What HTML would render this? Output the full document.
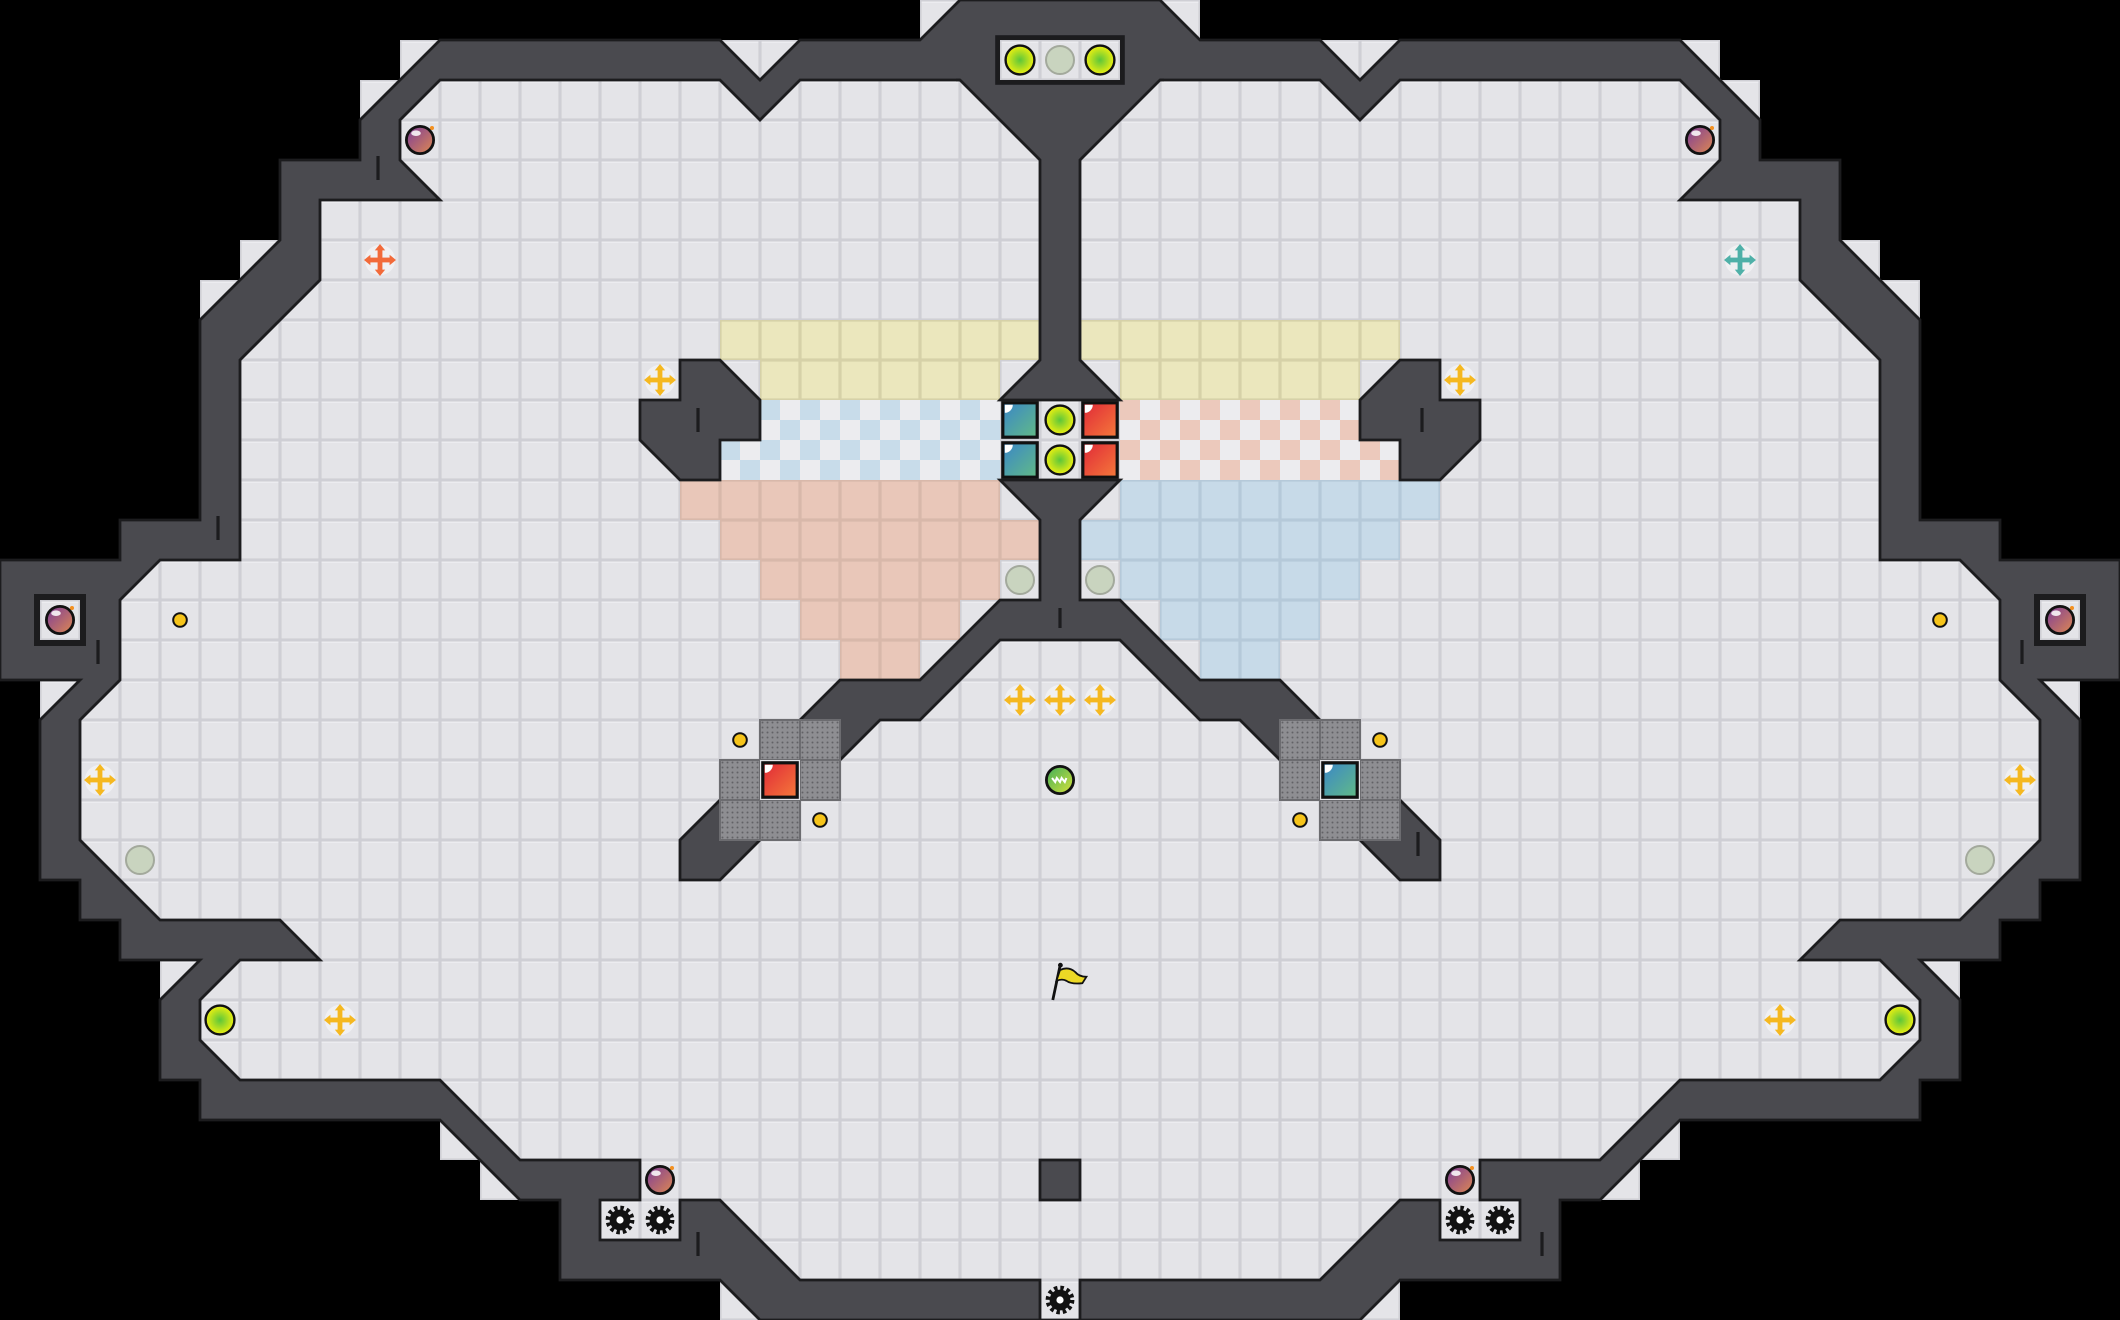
<!DOCTYPE html>
<html><head><meta charset="utf-8"><style>html,body{margin:0;padding:0;background:#000;overflow:hidden}svg{display:block}</style></head>
<body>
<svg width="2120" height="1320" viewBox="0 0 53 33" preserveAspectRatio="none" xmlns="http://www.w3.org/2000/svg">
<defs>
<pattern id="fl" width="1" height="1" patternUnits="userSpaceOnUse"><rect width="1" height="1" fill="#cfcfd5"/><rect x=".04" y=".04" width=".92" height=".92" fill="#e4e4e8"/><rect x=".04" y=".04" width=".92" height=".03" fill="#efeff2"/></pattern>
<pattern id="ye" width="1" height="1" patternUnits="userSpaceOnUse"><rect width="1" height="1" fill="#d6d1a8"/><rect x=".04" y=".04" width=".92" height=".92" fill="#ebe7bd"/></pattern>
<pattern id="pk" width="1" height="1" patternUnits="userSpaceOnUse"><rect width="1" height="1" fill="#d8b8aa"/><rect x=".04" y=".04" width=".92" height=".92" fill="#e9c7b9"/></pattern>
<pattern id="bl" width="1" height="1" patternUnits="userSpaceOnUse"><rect width="1" height="1" fill="#b5c9d9"/><rect x=".04" y=".04" width=".92" height=".92" fill="#c7dae8"/></pattern>
<pattern id="cb" width="1" height="1" patternUnits="userSpaceOnUse"><rect width="1" height="1" fill="#ececef"/><rect width=".5" height=".5" fill="#c8dcea"/><rect x=".5" y=".5" width=".5" height=".5" fill="#c8dcea"/></pattern>
<pattern id="cp" width="1" height="1" patternUnits="userSpaceOnUse"><rect width="1" height="1" fill="#ececef"/><rect width=".5" height=".5" fill="#ecc9bc"/><rect x=".5" y=".5" width=".5" height=".5" fill="#ecc9bc"/></pattern>
<pattern id="dt" width=".125" height=".125" patternUnits="userSpaceOnUse"><rect width=".125" height=".125" fill="#8e8e92"/><circle cx=".0625" cy=".0625" r=".025" fill="#626266"/></pattern>
<radialGradient id="gy" cx=".5" cy=".5" r=".5"><stop offset="0" stop-color="#5cc63a"/><stop offset="1" stop-color="#eef010"/></radialGradient>
<linearGradient id="gp" x1="0" y1="0" x2="1" y2="1"><stop offset="0" stop-color="#7a3a9a"/><stop offset="1" stop-color="#e08a50"/></linearGradient>
<linearGradient id="gt" x1="0" y1="0" x2="1" y2="1"><stop offset="0" stop-color="#3a86c8"/><stop offset="1" stop-color="#62bb86"/></linearGradient>
<linearGradient id="gr" x1="0" y1="0" x2="1" y2="1"><stop offset="0" stop-color="#e02838"/><stop offset="1" stop-color="#f57a3a"/></linearGradient>
<linearGradient id="gg" x1="0" y1="0" x2="1" y2="1"><stop offset="0" stop-color="#3fae5a"/><stop offset="1" stop-color="#d8e23a"/></linearGradient>
<g id="yc"><circle r=".36" fill="url(#gy)" stroke="#111" stroke-width=".06"/></g>
<g id="pc"><circle r=".35" fill="#c9d4bf" stroke="#a3a99c" stroke-width=".05"/></g>
<g id="bomb"><circle r=".34" fill="url(#gp)" stroke="#111" stroke-width=".07"/><ellipse cx="-.1" cy="-.17" rx=".12" ry=".07" fill="#fff" opacity=".85"/><circle cx=".3" cy="-.3" r=".05" fill="#f39020"/></g>
<g id="dot"><circle r=".17" fill="#f6c41a" stroke="#111" stroke-width=".05"/></g>
<g id="cr"><circle r=".38" fill="#f2f2f4" opacity=".8"/><rect x="-.06" y="-.26" width=".12" height=".52"/><rect x="-.26" y="-.06" width=".52" height=".12"/><polygon points="0,-.4 -.13,-.24 .13,-.24"/><polygon points="0,.4 -.13,.24 .13,.24"/><polygon points="-.4,0 -.24,-.13 -.24,.13"/><polygon points=".4,0 .24,-.13 .24,.13"/></g>
<g id="gear"><circle r=".3" fill="none" stroke="#111" stroke-width=".12" stroke-dasharray=".085 .072"/><circle r=".26" fill="#111"/><circle r=".09" fill="#fff"/></g>
</defs>

<g fill="url(#fl)">
<rect x="23" y="0" width="1" height="1"/><rect x="18" y="1" width="2" height="1"/><rect x="10" y="1" width="1" height="1"/><rect x="9" y="2" width="1" height="1"/><rect x="6" y="6" width="1" height="1"/><rect x="5" y="7" width="1" height="1"/><rect x="1" y="17" width="1" height="1"/><rect x="4" y="24" width="1" height="1"/><rect x="11" y="28" width="1" height="1"/><rect x="12" y="29" width="1" height="1"/><rect x="18" y="32" width="1" height="1"/>
<rect x="29" y="0" width="1" height="1"/><rect x="33" y="1" width="2" height="1"/><rect x="42" y="1" width="1" height="1"/><rect x="43" y="2" width="1" height="1"/><rect x="46" y="6" width="1" height="1"/><rect x="47" y="7" width="1" height="1"/><rect x="51" y="17" width="1" height="1"/><rect x="48" y="24" width="1" height="1"/><rect x="41" y="28" width="1" height="1"/><rect x="40" y="29" width="1" height="1"/><rect x="34" y="32" width="1" height="1"/>
</g>

<polygon fill="#4a4a4f" stroke="#1c1c1e" stroke-width=".07" points="24,0 23,1 20,1 19,2 18,1 11,1 10,2 9,3 9,4 7,4 7,6 6,7 5,8 5,13 3,13 3,14 0,14 0,17 2,17 1,18 1,22 2,22 2,23 3,23 3,24 5,24 4,25 4,27 5,27 5,28 11,28 12,29 13,30 14,30 14,32 18,32 19,33 34,33 35,32 39,32 39,30 40,30 41,29 42,28 48,28 48,27 49,27 49,25 48,24 50,24 50,23 51,23 51,22 52,22 52,18 51,17 53,17 53,14 50,14 50,13 48,13 48,8 47,7 46,6 46,4 44,4 44,3 43,2 42,1 35,1 34,2 33,1 30,1 29,0"/>

<polygon fill="url(#fl)" stroke="#1c1c1e" stroke-width=".07" points="24,2 20,2 19,3 18,2 11,2 10,3 10,4 11,5 8,5 8,7 6,9 6,14 4,14 3,15 3,17 2,18 2,21 4,23 7,23 8,24 6,24 5,25 5,26 6,27 11,27 13,29 16,29 16,30 15,30 15,31 17,31 17,30 18,30 20,32 26,32 26,33 27,33 27,32 33,32 35,30 36,30 36,31 38,31 38,30 37,30 37,29 40,29 42,27 47,27 48,26 48,25 47,24 45,24 46,23 49,23 51,21 51,18 50,17 50,15 49,14 47,14 47,9 45,7 45,5 42,5 43,4 43,3 42,2 35,2 34,3 33,2 29,2"/>

<rect x=".85" y="14.85" width="1.3" height="1.3" fill="#1c1c1e"/><rect x="1" y="15" width="1" height="1" fill="url(#fl)"/>
<rect x="50.85" y="14.85" width="1.3" height="1.3" fill="#1c1c1e"/><rect x="51" y="15" width="1" height="1" fill="url(#fl)"/>

<rect x="18" y="8" width="8" height="1" fill="url(#ye)"/><rect x="19" y="9" width="6" height="1" fill="url(#ye)"/>
<rect x="27" y="8" width="8" height="1" fill="url(#ye)"/><rect x="28" y="9" width="6" height="1" fill="url(#ye)"/>
<rect x="19" y="10" width="6" height="1" fill="url(#cb)"/><rect x="18" y="11" width="7" height="1" fill="url(#cb)"/>
<rect x="28" y="10" width="6" height="1" fill="url(#cp)"/><rect x="28" y="11" width="7" height="1" fill="url(#cp)"/>
<rect x="17" y="12" width="8" height="1" fill="url(#pk)"/><rect x="18" y="13" width="8" height="1" fill="url(#pk)"/><rect x="19" y="14" width="6" height="1" fill="url(#pk)"/><rect x="20" y="15" width="4" height="1" fill="url(#pk)"/><rect x="21" y="16" width="2" height="1" fill="url(#pk)"/>
<rect x="28" y="12" width="8" height="1" fill="url(#bl)"/><rect x="27" y="13" width="8" height="1" fill="url(#bl)"/><rect x="28" y="14" width="6" height="1" fill="url(#bl)"/><rect x="29" y="15" width="4" height="1" fill="url(#bl)"/><rect x="30" y="16" width="2" height="1" fill="url(#bl)"/>

<!-- top stem: fill then inner-edge stroke -->
<polygon fill="#4a4a4f" points="24,1 24,2 26,4 26,9 25,10 28,10 27,9 27,4 29,2 29,1"/>
<polyline fill="none" stroke="#1c1c1e" stroke-width=".07" points="23.9,2 24,2 26,4 26,9 25,10 28,10 27,9 27,4 29,2 29.1,2"/>

<g fill="#4a4a4f" stroke="#1c1c1e" stroke-width=".07">
<polygon points="25,12 26,13 26,15 25,15 23,17 21,17 18,20 17,21 17,22 18,22 21,19 22,18 23,18 25,16 28,16 30,18 31,18 32,19 35,22 36,22 36,21 35,20 32,17 30,17 28,15 27,15 27,13 28,12"/>
<polygon points="17,9 18,9 19,10 19,11 18,11 18,12 17,12 16,11 16,10 17,10"/>
<polygon points="36,9 35,9 34,10 34,11 35,11 35,12 36,12 37,11 37,10 36,10"/>
<rect x="26" y="29" width="1" height="1"/>
</g>
<rect x="24.88" y=".88" width="3.24" height="1.24" fill="#1c1c1e"/>
<rect x="25" y="1" width="3" height="1" fill="url(#fl)"/>

<g stroke="#1c1c1e" stroke-width=".08">
<line x1="17.45" y1="10.2" x2="17.45" y2="10.8"/><line x1="35.55" y1="10.2" x2="35.55" y2="10.8"/>
<line x1="26.5" y1="15.2" x2="26.5" y2="15.7"/><line x1="9.45" y1="3.9" x2="9.45" y2="4.5"/>
<line x1="5.45" y1="12.9" x2="5.45" y2="13.5"/><line x1="2.45" y1="16" x2="2.45" y2="16.6"/>
<line x1="50.55" y1="16" x2="50.55" y2="16.6"/><line x1="17.45" y1="30.8" x2="17.45" y2="31.4"/>
<line x1="38.55" y1="30.8" x2="38.55" y2="31.4"/><line x1="35.45" y1="20.8" x2="35.45" y2="21.4"/>
</g>

<g fill="url(#dt)" stroke="#6c6c70" stroke-width=".05">
<rect x="19" y="18" width="1" height="1"/><rect x="20" y="18" width="1" height="1"/><rect x="18" y="19" width="1" height="1"/><rect x="20" y="19" width="1" height="1"/><rect x="18" y="20" width="1" height="1"/><rect x="19" y="20" width="1" height="1"/>
<rect x="32" y="18" width="1" height="1"/><rect x="33" y="18" width="1" height="1"/><rect x="32" y="19" width="1" height="1"/><rect x="34" y="19" width="1" height="1"/><rect x="33" y="20" width="1" height="1"/><rect x="34" y="20" width="1" height="1"/>
</g>
<rect x="19" y="19" width="1" height="1" fill="#e4e4e8"/>
<rect x="33" y="19" width="1" height="1" fill="#e4e4e8"/>

<g stroke="#111" stroke-width=".08">
<rect x="25.07" y="10.07" width=".86" height=".86" fill="url(#gt)"/><rect x="25.07" y="11.07" width=".86" height=".86" fill="url(#gt)"/>
<rect x="27.07" y="10.07" width=".86" height=".86" fill="url(#gr)"/><rect x="27.07" y="11.07" width=".86" height=".86" fill="url(#gr)"/>
<rect x="19.07" y="19.07" width=".86" height=".86" fill="url(#gr)"/>
<rect x="33.07" y="19.07" width=".86" height=".86" fill="url(#gt)"/>
</g>
<g fill="#fff">
<path d="M25.12,10.12h.2a.2.2 0 0 1-.2.2z"/><path d="M25.12,11.12h.2a.2.2 0 0 1-.2.2z"/><path d="M27.12,10.12h.2a.2.2 0 0 1-.2.2z"/><path d="M27.12,11.12h.2a.2.2 0 0 1-.2.2z"/><path d="M19.12,19.12h.2a.2.2 0 0 1-.2.2z"/><path d="M33.12,19.12h.2a.2.2 0 0 1-.2.2z"/>
</g>

<use href="#yc" x="25.5" y="1.5"/><use href="#pc" x="26.5" y="1.5"/><use href="#yc" x="27.5" y="1.5"/>
<use href="#yc" x="26.5" y="10.5"/><use href="#yc" x="26.5" y="11.5"/>
<use href="#pc" x="25.5" y="14.5"/><use href="#pc" x="27.5" y="14.5"/>
<use href="#pc" x="3.5" y="21.5"/><use href="#pc" x="49.5" y="21.5"/>
<use href="#yc" x="5.5" y="25.5"/><use href="#yc" x="47.5" y="25.5"/>
<use href="#bomb" x="10.5" y="3.5"/><use href="#bomb" x="42.5" y="3.5"/><use href="#bomb" x="1.5" y="15.5"/><use href="#bomb" x="51.5" y="15.5"/><use href="#bomb" x="16.5" y="29.5"/><use href="#bomb" x="36.5" y="29.5"/>
<use href="#dot" x="4.5" y="15.5"/><use href="#dot" x="48.5" y="15.5"/><use href="#dot" x="18.5" y="18.5"/><use href="#dot" x="20.5" y="20.5"/><use href="#dot" x="34.5" y="18.5"/><use href="#dot" x="32.5" y="20.5"/>
<g fill="#f5b820">
<use href="#cr" x="16.5" y="9.5"/><use href="#cr" x="36.5" y="9.5"/><use href="#cr" x="2.5" y="19.5"/><use href="#cr" x="50.5" y="19.5"/><use href="#cr" x="8.5" y="25.5"/><use href="#cr" x="44.5" y="25.5"/>
<use href="#cr" x="25.5" y="17.5"/><use href="#cr" x="26.5" y="17.5"/><use href="#cr" x="27.5" y="17.5"/>
</g>
<g fill="#f26a3a"><use href="#cr" x="9.5" y="6.5"/></g>
<g fill="#4fb0a8"><use href="#cr" x="43.5" y="6.5"/></g>
<use href="#gear" x="15.5" y="30.5"/><use href="#gear" x="16.5" y="30.5"/><use href="#gear" x="36.5" y="30.5"/><use href="#gear" x="37.5" y="30.5"/><use href="#gear" x="26.5" y="32.5"/>
<circle cx="26.5" cy="19.5" r=".34" fill="url(#gg)" stroke="#111" stroke-width=".07"/>
<path d="M26.3,19.45 l.08,.1 l.04,-.1 l.08,.1 l.04,-.1 l.08,.1 l.04,-.1" fill="none" stroke="#fff" stroke-width=".05"/>
<line x1="26.5" y1="24.15" x2="26.32" y2="25" stroke="#111" stroke-width=".07"/>
<circle cx="26.51" cy="24.13" r=".06" fill="#111"/>
<path d="M26.5,24.25 q.22,-.1 .38,.05 q.1,.12 .28,.12 l-.1,.16 q-.28,.03 -.4,-.06 q-.1,-.06 -.25,0 z" fill="#ecd825" stroke="#111" stroke-width=".045"/>
</svg>
</body></html>
